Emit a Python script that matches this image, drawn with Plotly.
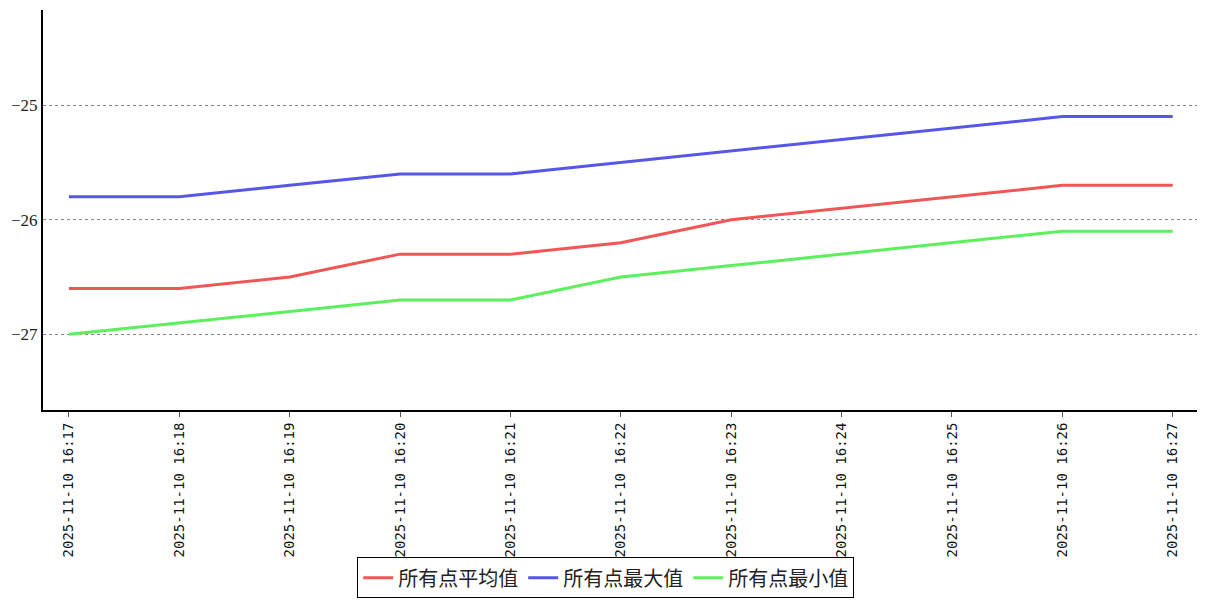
import plotly.graph_objects as go

times = ["2025-11-10 16:17", "2025-11-10 16:18", "2025-11-10 16:19", "2025-11-10 16:20",
         "2025-11-10 16:21", "2025-11-10 16:22", "2025-11-10 16:23", "2025-11-10 16:24",
         "2025-11-10 16:25", "2025-11-10 16:26", "2025-11-10 16:27"]
avg_vals = [-26.6, -26.6, -26.5, -26.3, -26.3, -26.2, -26.0, -25.9, -25.8, -25.7, -25.7]
max_vals = [-25.8, -25.8, -25.7, -25.6, -25.6, -25.5, -25.4, -25.3, -25.2, -25.1, -25.1]
min_vals = [-27.0, -26.9, -26.8, -26.7, -26.7, -26.5, -26.4, -26.3, -26.2, -26.1, -26.1]
series_names = ["所有点平均值", "所有点最大值", "所有点最小值"]
colors = ["#f05656", "#5656e8", "#5cf05c"]

fig = go.Figure()
for name, vals, c in zip(series_names, [avg_vals, max_vals, min_vals], colors):
    fig.add_trace(go.Scatter(x=list(range(len(times))), y=vals, mode="lines", name=name,
                             line=dict(color=c, width=3)))

tick_font = dict(family="DejaVu Sans Mono, Noto Sans CJK SC", size=14, color="#111")
fig.update_layout(
    width=1199, height=592,
    margin=dict(l=35, r=10, t=2, b=190, autoexpand=False),
    plot_bgcolor="white", paper_bgcolor="white",
    showlegend=True,
    legend=dict(orientation="h", x=0.4985, xanchor="center", xref="container",
                y=0.003, yanchor="bottom", yref="container",
                font=dict(family="Noto Sans CJK SC", size=20, color="#222"),
                bordercolor="black", borderwidth=1, bgcolor="white",
                itemwidth=30, tracegroupgap=0),
    xaxis=dict(range=[-0.235, 10.22], tickmode="array", tickvals=list(range(len(times))),
               ticktext=times, tickangle=-90, tickfont=tick_font, automargin=False,
               showline=True, linecolor="black", linewidth=2, ticks="outside",
               ticklen=5, tickcolor="#555", showgrid=False, zeroline=False),
    yaxis=dict(range=[-27.66, -24.17], dtick=1, tick0=-27, automargin=False,
               tickfont=dict(family="Liberation Serif", size=17, color="#222"),
               showline=True, linecolor="black", linewidth=2, ticks="",
               showgrid=True, gridcolor="#888", griddash="dot", gridwidth=1, zeroline=False),
)
fig.write_html("out.html")
